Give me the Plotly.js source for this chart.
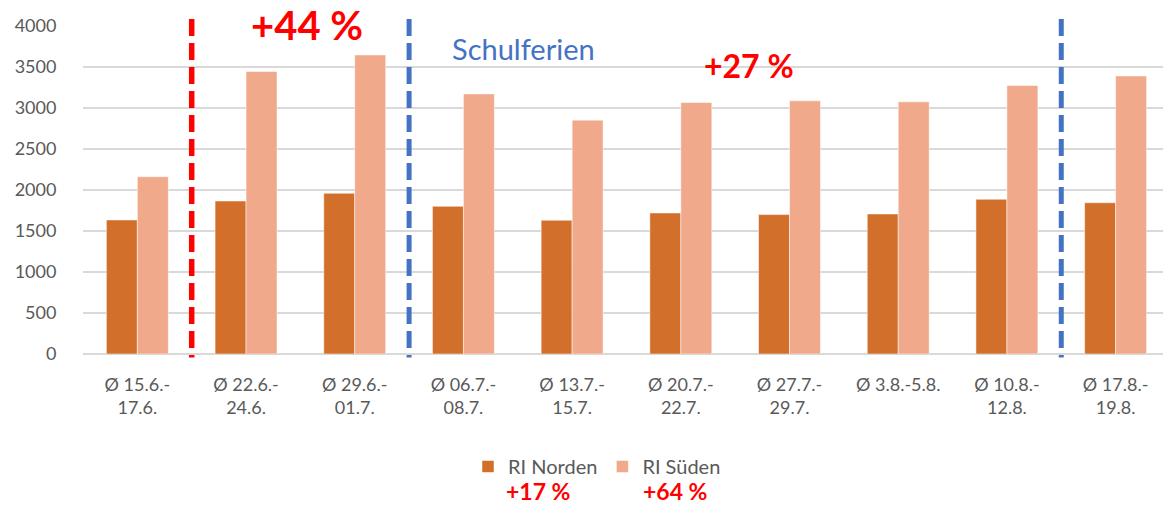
<!DOCTYPE html>
<html>
<head>
<meta charset="utf-8">
<script src="https://cdn.plot.ly/plotly-3.0.1.min.js"></script>
<style>html,body{margin:0;padding:0;background:#fff;}#chart{width:1163px;height:508px;}</style>
</head>
<body>
<div id="chart"></div>
<script>
const categories = ["Ø 15.6.-<br>17.6.", "Ø 22.6.-<br>24.6.", "Ø 29.6.-<br>01.7.", "Ø 06.7.-<br>08.7.", "Ø 13.7.-<br>15.7.", "Ø 20.7.-<br>22.7.", "Ø 27.7.-<br>29.7.", "Ø 3.8.-5.8.<br> ", "Ø 10.8.-<br>12.8.", "Ø 17.8.-<br>19.8."];
const norden = [1635, 1866, 1960, 1801, 1631, 1720, 1700, 1708, 1887, 1845];
const sueden = [2162, 3445, 3647, 3172, 2852, 3067, 3087, 3075, 3274, 3391];
const seriesNames = ["RI Norden", "RI Süden"];
const yTicks = [0, 500, 1000, 1500, 2000, 2500, 3000, 3500, 4000];
const redLineAt = [0.5];
const blueLinesAt = [2.5, 8.5];

const idx = categories.map((_, i) => i);
const FONT = "Lato, 'Open Sans', sans-serif";

const traces = [
  {type: 'bar', x: idx, y: norden, name: seriesNames[0],
   marker: {color: '#D26F2B', line: {color: 'rgba(255,255,255,0.5)', width: 1}}},
  {type: 'bar', x: idx, y: sueden, name: seriesNames[1],
   marker: {color: '#F0A98A', line: {color: 'rgba(255,255,255,0.5)', width: 1}}}
];

const shapes = [];
redLineAt.forEach(v => shapes.push({type: 'line', xref: 'x', yref: 'paper', x0: v, x1: v, y1: -0.011, y0: 1.021,
  line: {color: '#FF0000', width: 5.5, dash: '17px,7px'}}));
blueLinesAt.forEach(v => shapes.push({type: 'line', xref: 'x', yref: 'paper', x0: v, x1: v, y1: -0.011, y0: 1.021,
  line: {color: '#4472C4', width: 5, dash: '17px,7px'}}));

const annotations = [
  {text: '<b>+44 %</b>', xref: 'x', yref: 'paper', x: 1.56, y: (354.3 - 25) / 328.6, showarrow: false,
   font: {family: FONT, size: 40, color: '#FF0000'}, xanchor: 'center', yanchor: 'middle'},
  {text: 'Schulferien', xref: 'x', yref: 'paper', x: 3.548, y: 0.932, showarrow: false,
   font: {family: FONT, size: 29, color: '#4472C4'}, xanchor: 'center', yanchor: 'middle'},
  {text: '<b>+27 %</b>', xref: 'x', yref: 'paper', x: 5.63, y: 0.88, showarrow: false,
   font: {family: FONT, size: 32, color: '#FF0000'}, xanchor: 'center', yanchor: 'middle'},
  {text: '<b>+17 %</b>', xref: 'paper', yref: 'paper', x: (537.5 - 83) / 1080, y: (354.3 - 492) / 328.6, showarrow: false,
   font: {family: FONT, size: 23, color: '#FF0000'}, xanchor: 'center', yanchor: 'middle'},
  {text: '<b>+64 %</b>', xref: 'paper', yref: 'paper', x: (675 - 83) / 1080, y: (354.3 - 492) / 328.6, showarrow: false,
   font: {family: FONT, size: 23, color: '#FF0000'}, xanchor: 'center', yanchor: 'middle'}
];

const layout = {
  width: 1163, height: 508,
  margin: {l: 83, r: 0, t: 25.7, b: 153.7, pad: 0},
  paper_bgcolor: '#fff', plot_bgcolor: '#fff',
  font: {family: FONT, size: 18, color: '#595959'},
  barmode: 'group', bargap: 0.43, bargroupgap: 0,
  showlegend: true,
  legend: {orientation: 'h', x: (597 - 83) / 1080, y: (354.3 - 467) / 328.6, xanchor: 'center', yanchor: 'middle',
    font: {family: FONT, size: 20, color: '#595959'}, itemwidth: 30, tracegroupgap: 0},
  xaxis: {tickmode: 'array', tickvals: idx, ticktext: categories, range: [-0.5, 9.436],
    showgrid: false, zeroline: false, showline: false, ticks: 'outside', ticklen: 14, tickcolor: 'rgba(0,0,0,0)',
    tickfont: {family: FONT, size: 18, color: '#595959'}, fixedrange: true},
  yaxis: {range: [0, 4000], tickmode: 'array', tickvals: yTicks, ticktext: yTicks.map(String),
    showgrid: true, gridcolor: '#D9D9D9', gridwidth: 1.5, zeroline: true, zerolinecolor: '#D9D9D9', zerolinewidth: 1.5,
    ticks: 'outside', ticklen: 22, tickcolor: 'rgba(0,0,0,0)', showline: false,
    tickfont: {family: FONT, size: 18, color: '#595959'}, fixedrange: true},
  shapes: shapes,
  annotations: annotations
};

Plotly.newPlot('chart', traces, layout, {displayModeBar: false, staticPlot: true});
</script>
</body>
</html>
